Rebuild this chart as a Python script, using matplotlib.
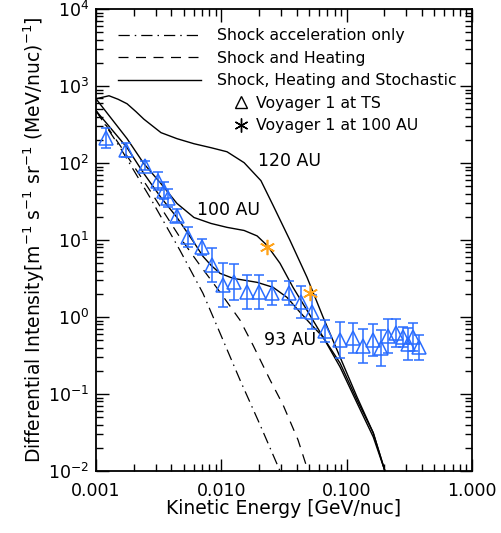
import numpy as np
import matplotlib
matplotlib.use("Agg")
import matplotlib.pyplot as plt
from matplotlib.lines import Line2D
from matplotlib.ticker import FixedLocator, FuncFormatter, LogLocator

# Voyager 1 at TS (energy [GeV/nuc], intensity, lower / upper bound of error bar)
e_ts = [0.00120, 0.00173, 0.00246, 0.00313, 0.00349, 0.00376, 0.00443, 0.00542,
        0.00702, 0.00843, 0.0103, 0.0126, 0.0160, 0.0200, 0.0254, 0.0347, 0.0433,
        0.0530, 0.0673, 0.0886, 0.112, 0.135, 0.163, 0.188, 0.214, 0.248, 0.282,
        0.309, 0.339, 0.378]
j_ts = [213, 149, 92.5, 59, 43.9, 35.6, 20.8, 10.8, 8.0, 4.69, 2.58, 2.83, 2.10,
        2.10, 2.03, 2.03, 1.56, 1.15, 0.655, 0.50, 0.53, 0.419, 0.50, 0.394, 0.564,
        0.617, 0.547, 0.445, 0.547, 0.406]
j_lo = [158, 121, 80, 45, 34.6, 27, 16.9, 8.0, 6.3, 2.83, 1.34, 1.65, 1.27, 1.27,
        1.42, 1.42, 0.97, 0.69, 0.47, 0.29, 0.34, 0.25, 0.31, 0.23, 0.34, 0.41,
        0.41, 0.28, 0.36, 0.28]
j_hi = [288, 183, 107, 77, 56, 46.6, 25.6, 14.6, 10.2, 7.8, 4.98, 4.84, 3.49, 3.49,
        2.90, 2.90, 2.51, 1.91, 0.91, 0.86, 0.83, 0.70, 0.81, 0.67, 0.94, 0.94,
        0.74, 0.72, 0.83, 0.58]

# Voyager 1 at 100 AU
e_100 = [0.0232, 0.051]
j_100 = [8.0, 2.05]

# model: shock, heating and stochastic
e_120au = [0.001, 0.00127, 0.00150, 0.00177, 0.00208, 0.00241, 0.00330, 0.00443,
           0.00605, 0.00828, 0.0111, 0.0152, 0.0207, 0.0259, 0.0353, 0.0483, 0.0649,
           0.0886, 0.121, 0.163, 0.202]
j_120au = [682, 747, 673, 588, 466, 371, 248, 207, 178, 158, 140, 101, 59, 28.1,
           9.9, 3.27, 0.993, 0.301, 0.0914, 0.0313, 0.01]

e_100au = [0.001, 0.00177, 0.00241, 0.00330, 0.00443, 0.00605, 0.00828, 0.0111,
           0.0152, 0.0193, 0.0232, 0.0294, 0.0373, 0.0483, 0.0649, 0.0886, 0.121,
           0.163, 0.202]
j_100au = [682, 207, 98, 54, 29.8, 19.6, 16.4, 14.6, 13.3, 11.3, 8.5, 4.98, 2.43,
           1.22, 0.547, 0.224, 0.0764, 0.0277, 0.01]

e_93au = [0.001, 0.00177, 0.00241, 0.00330, 0.00443, 0.00605, 0.00714, 0.00828,
          0.00977, 0.0124, 0.0193, 0.0259, 0.0334, 0.0425, 0.0510, 0.0649, 0.0886,
          0.121, 0.163, 0.202]
j_93au = [478, 158, 73, 35.6, 19.6, 9.3, 6.13, 4.69, 3.69, 3.18, 2.82, 2.43, 1.80,
          1.15, 0.83, 0.547, 0.252, 0.0836, 0.0313, 0.01]

# shock acceleration only
e_shock = [0.001, 0.00156, 0.00270, 0.00468, 0.00714, 0.00977, 0.0141, 0.0204, 0.0294]
j_shock = [478, 158, 35.6, 7.33, 2.03, 0.617, 0.152, 0.0396, 0.01]

# shock and heating
e_heat = [0.001, 0.00156, 0.00270, 0.00468, 0.00676, 0.00977, 0.0141, 0.0179,
          0.0245, 0.0311, 0.0409, 0.0492]
j_heat = [478, 168, 43.8, 10.8, 4.69, 2.10, 0.91, 0.431, 0.152, 0.0721, 0.0254, 0.01]

blue = "#2a6dff"
orange = "#ffa31a"

plt.rcParams["font.family"] = "DejaVu Sans"

fig = plt.figure(figsize=(5.01, 5.33), dpi=100)
ax = fig.add_axes([0.1916, 0.1163, 0.7505, 0.8668])

ax.plot(e_shock, j_shock, color="black", lw=0.9, dashes=(9, 4, 1.2, 4))
ax.plot(e_heat, j_heat, color="black", lw=0.9, dashes=(8, 6))
ax.plot(e_120au, j_120au, color="black", lw=1.0)
ax.plot(e_100au, j_100au, color="black", lw=1.0)
ax.plot(e_93au, j_93au, color="black", lw=1.0)

yerr = [np.array(j_ts) - np.array(j_lo), np.array(j_hi) - np.array(j_ts)]
ax.errorbar(e_ts, j_ts, yerr=yerr, fmt="^", mfc="none", mec=blue, ms=9.5, mew=1.1,
            ecolor=blue, elinewidth=1.1, capsize=3.5, capthick=1.1)
ax.plot(e_100, j_100, ls="none", marker=(6, 2, 0), ms=11, mec=orange, mew=1.2)

ax.text(0.0353, 107, "120 AU", fontsize=12.5, ha="center", va="center")
ax.text(0.0115, 24.2, "100 AU", fontsize=12.5, ha="center", va="center")
ax.text(0.0353, 0.50, "93 AU", fontsize=12.5, ha="center", va="center")

ax.set_xscale("log")
ax.set_yscale("log")
ax.set_xlim(0.001, 1.0)
ax.set_ylim(1e-2, 1e4)

ax.xaxis.set_major_locator(FixedLocator([0.001, 0.01, 0.1, 1.0]))
ax.xaxis.set_major_formatter(FuncFormatter(lambda v, p: "%.3f" % v))
ax.xaxis.set_minor_locator(LogLocator(base=10, subs=np.arange(2, 10)))
ax.yaxis.set_minor_locator(LogLocator(base=10, subs=np.arange(2, 10)))
ax.tick_params(which="both", direction="in", top=True, right=True, width=1.0,
               labelsize=12.5)
ax.tick_params(which="major", length=9, pad=8)
ax.tick_params(which="minor", length=5)
ax.tick_params(axis="y", which="major", pad=5)
for s in ax.spines.values():
    s.set_linewidth(1.3)

ax.set_xlabel("Kinetic Energy [GeV/nuc]", fontsize=13.5, labelpad=-1)
ax.set_ylabel("Differential Intensity[m$^{-1}$ s$^{-1}$ sr$^{-1}$ (MeV/nuc)$^{-1}$]",
              fontsize=13.5, labelpad=1)

line_handles = [
    Line2D([], [], color="black", lw=0.9, dashes=(9, 4, 1.2, 4)),
    Line2D([], [], color="black", lw=0.9, dashes=(8, 6)),
    Line2D([], [], color="black", lw=1.0),
]
leg1 = ax.legend(line_handles,
                 ["Shock acceleration only", "Shock and Heating",
                  "Shock, Heating and Stochastic"],
                 loc="upper left", bbox_to_anchor=(0.058, 0.958), frameon=False,
                 fontsize=11.3, handlelength=5.3, handletextpad=1.0,
                 labelspacing=0.48, borderpad=0, borderaxespad=0)
ax.add_artist(leg1)

marker_handles = [
    Line2D([], [], ls="none", marker="^", mfc="none", mec="black", ms=9, mew=1.0),
    Line2D([], [], ls="none", marker=(6, 2, 0), mec="black", ms=10, mew=1.0),
]
ax.legend(marker_handles, ["Voyager 1 at TS", "Voyager 1 at 100 AU"],
          loc="upper left", bbox_to_anchor=(0.366, 0.812), frameon=False,
          fontsize=11.3, handlelength=1.0, handletextpad=0.4,
          labelspacing=0.48, borderpad=0, borderaxespad=0)

fig.savefig("out.png", dpi=100)
